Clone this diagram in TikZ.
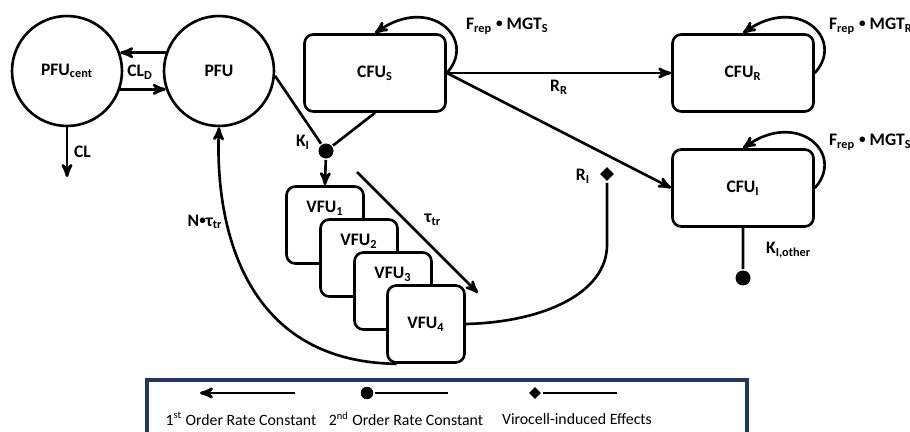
\documentclass[tikz,border=0pt]{standalone}
\usepackage{fontspec}
\setmainfont{Carlito}
\usetikzlibrary{arrows,shapes.geometric}
\definecolor{legendnavy}{HTML}{1F3864}
\newcommand{\sbs}[1]{\textsubscript{#1}}
\newcommand{\bdot}{\raisebox{0.2ex}{\fontsize{7.5}{8}\selectfont•}}

\begin{document}
\begin{tikzpicture}[x=0.02cm,y=-0.02cm,>=stealth',line width=1.5pt,
  font=\bfseries\fontsize{10}{12}\selectfont,
  comp/.style={draw,circle,minimum size=2.2cm,inner sep=0pt},
  cell/.style={draw,rounded corners=5pt,minimum width=2.82cm,minimum height=1.54cm},
  vcell/.style={draw,fill=white,rounded corners=5pt,minimum size=1.54cm},
  bind/.style={circle,fill,minimum size=0.3cm,inner sep=0pt},
  effect/.style={diamond,fill,minimum size=0.3cm,inner sep=0pt},
  legtext/.style={font=\fontsize{9}{11}\selectfont}]
\useasboundingbox (0,0) rectangle (910,432);

% compartments
\node[comp] (pfuc) at (67,71)  {PFU\sbs{cent}};
\node[comp] (pfu)  at (219,71) {PFU};
\node[cell] (cfus) at (375,73) {CFU\sbs{S}};
\node[cell] (cfur) at (743,73) {CFU\sbs{R}};
\node[cell] (cfui) at (743,188) {CFU\sbs{I}};
\node[bind] (ki)  at (326,151) {};
\node[bind] (kio) at (743,278) {};
\node[effect] (ri) at (607,174) {};

% virocells
\node[vcell,label={[below=5pt]north:VFU\sbs{1}}] (vfu1) at (325,225) {};
\node[vcell,label={[below=5pt]north:VFU\sbs{2}}] (vfu2) at (359,258) {};
\node[vcell,label={[below=5pt]north:VFU\sbs{3}}] (vfu3) at (393,291) {};
\node[vcell] (vfu4) at (426,324) {VFU\sbs{4}};

\coordinate (clend) at (67,177);
\coordinate (taua) at (357,172);
\coordinate (taub) at (478,293);
\coordinate (rbend) at (607,245);

\path[->]
(pfu.161)   edge                        (pfuc.19)
(pfuc.-19)  edge                        (pfu.-161)
(pfuc.south) edge node[right] {CL}      (clend)
(cfus.east) edge node[below] {R\sbs{R}} (cfur.west)
(cfus.east) edge                        (cfui.west)
(ki)        edge                        (vfu1.north)
(taua)      edge node[above right] {τ\sbs{tr}} (taub)
;
\draw (pfu.-5) -- (ki) (cfus.south) -- (ki) (cfui.south) -- (kio);

% growth loops
\draw[->] (cfus.east) .. controls +(31,-34) and +(55,-39) .. (cfus.north);
\draw[->] (cfur.east) .. controls +(31,-34) and +(55,-39) .. (cfur.north);
\draw[->] (cfui.east) .. controls +(31,-34) and +(55,-39) .. (cfui.north);

% return of virions and virocell effects
\draw[->] ([xshift=6pt]vfu4.south west) .. controls (240,362) and (215,220) .. (pfu.south);
\draw (vfu4.east) .. controls +(80,-2) and +(0,47) .. (rbend) -- (ri);

% labels
\node (cld)   at (140,72)  {CL\sbs{D}};
\node (kilab) at (303,142) {K\sbs{I}};
\node (rilab) at (583,176) {R\sbs{I}};
\node (ntau)  at (205,222) {N\bdot τ\sbs{tr}};
\node[anchor=west] (kiolab) at (759,250) {K\sbs{I,other}};
\node[anchor=west] (fs) at (459,26)  {F\sbs{rep} \bdot{} MGT\sbs{S}};
\node[anchor=west] (fr) at (822,26)  {F\sbs{rep} \bdot{} MGT\sbs{R}};
\node[anchor=west] (fi) at (822,142) {F\sbs{rep} \bdot{} MGT\sbs{S}};

% legend
\draw[legendnavy,line width=2.2pt] (147,380) rectangle (747,450);
\coordinate (lga) at (295,393);
\coordinate (lgb) at (200,393);
\draw[->] (lga) -- (lgb);
\node[bind,minimum size=0.25cm] (lgdot) at (367,393) {};
\coordinate (lgc) at (448,393);
\draw (lgdot) -- (lgc);
\node[effect,minimum size=0.26cm] (lgdia) at (535,393) {};
\coordinate (lgd) at (617,393);
\draw (lgdia) -- (lgd);
\node[legtext] (lg1) at (241,419) {1\textsuperscript{st} Order Rate Constant};
\node[legtext] (lg2) at (406,419) {2\textsuperscript{nd} Order Rate Constant};
\node[legtext] (lg3) at (577,419) {Virocell-induced Effects};
\end{tikzpicture}
\end{document}
